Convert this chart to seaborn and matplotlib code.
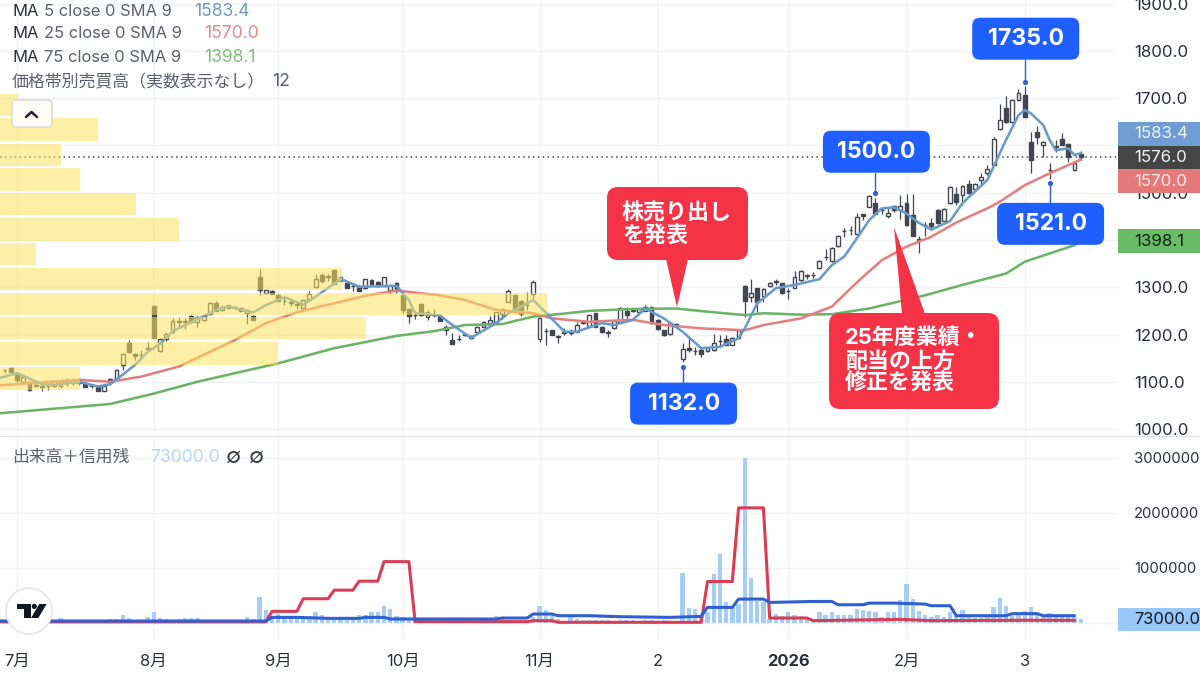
import numpy as np
import pandas as pd
import matplotlib
matplotlib.use("Agg")
import matplotlib.pyplot as plt
import seaborn as sns
from matplotlib.patches import FancyBboxPatch, Polygon, Circle
from matplotlib.lines import Line2D
from matplotlib.transforms import Affine2D

# Daily candles, first entry is bar -2 (bar 0 is the first session of July)
opens = [1124,1130,1119,1100,1100,1094,1089,1090,1092,1090,
 1098,1098,1097,1098,1091,1091,1081,1105,1105,1135,
 1181,1158,1156,1169,1261,1165,1190,1205,1229,1228,
 1240,1227,1230,1243,1267,1251,1262,1258,1256,1245,
 1240,1321,1288,1293,1283,1271,1268,1263,1256,1275,
 1300,1326,1323,1336,1322,1308,1303,1303,1298,1315,
 1312,1303,1294,1310,1283.5,1254,1241,1264.5,1238,1241,
 1240,1216.5,1188,1191,1200.5,1197,1206,1216.5,1223.5,1225.5,
 1242.5,1269.5,1283.5,1271,1262,1285,1190.5,1207,1209,1195,
 1204,1204,1206,1225,1218.5,1244.5,1216.5,1205,1213,1225.5,
 1249.5,1252,1248,1250,1259,1230.5,1209.5,1201,1222,1148,
 1171,1165,1167,1165,1167,1187,1190,1178,1193,1302.5,
 1280,1297.5,1282,1302.5,1312,1308,1292,1299,1315,1324,
 1325,1340,1364,1355.5,1387,1419,1421,1412,1454,1470.5,
 1478,1463,1451,1473,1463,1477.5,1453,1401,1432,1436,
 1463,1441,1477.5,1497,1495,1518,1507,1527,1542,1559,
 1634,1679,1650,1696,1707,1608,1629,1601,1548,1597,
 1613,1604,1548,1581]
closes = [1125,1121,1103,1111,1083,1091,1089.5,1091,1102,1101,
 1099,1100,1100,1088,1093,1081,1090,1100,1125,1158,
 1163,1155,1157,1172,1193,1190,1202,1229,1226,1226,
 1227,1236,1239,1266,1250,1258,1257,1258,1250,1251,
 1230,1294,1294,1285,1271,1270,1267,1264,1273,1286,
 1317,1314,1322,1306,1313,1298,1302,1292,1317,1306,
 1303,1321,1304,1292,1252,1240,1241,1241,1247,1242,
 1228.5,1209,1180.5,1190,1200,1192,1216,1225.5,1230.5,1247,
 1255,1292.5,1248,1242.5,1263,1312,1234,1208,1199,1195.5,
 1204.5,1204,1220,1226,1241,1216.5,1204.5,1203,1228.5,1255.5,
 1241,1250,1253,1259,1223.5,1211.5,1199,1223.5,1220,1168.5,
 1168,1165,1158,1172,1183,1186,1178,1192,1209.5,1271.5,
 1288.5,1268,1296,1310,1313,1287,1292,1322,1334,1324,
 1326,1356,1365,1383.5,1408,1420,1421,1448,1451,1493,
 1456,1464,1458,1463,1472,1431.5,1409,1402,1431.5,1429.5,
 1435,1465,1513,1481,1514,1499,1518,1534,1551,1613,
 1655,1650,1696,1712,1661,1569,1617,1608,1549,1598,
 1602,1576,1564,1576]
highs = [1128,1132,1121,1113,1101,1098,1097,1098,1104,1103,
 1107,1104,1108,1101,1095,1092,1092,1108,1127,1160,
 1188,1160,1167,1185,1262,1192,1205,1235,1238,1234,
 1242,1240,1241,1268,1270,1262,1263,1261,1258,1254,
 1241,1338,1295,1294,1285,1280,1275,1269,1274,1292,
 1327,1331,1329,1337,1324,1309,1309,1304,1318,1317,
 1314,1322,1305,1311,1287,1256,1250,1266,1252,1255,
 1241,1220,1204,1200,1204,1198,1217,1228,1240,1248,
 1256,1296,1285,1272,1289,1315,1236,1213,1209,1200,
 1213,1211,1227,1230,1243,1245,1217,1209,1230,1258,
 1258,1255,1254,1262,1261,1232,1210,1225,1224,1181,
 1192,1174,1174,1173,1202,1199,1199,1194,1211,1305,
 1317,1299,1298,1312,1317,1309,1298,1335,1336,1329,
 1333,1358,1380,1385,1410,1425,1430,1457,1456,1495,
 1488,1470,1470,1475,1495,1498,1498,1408,1439,1446,
 1466,1467,1515,1513,1516,1527,1520,1541,1558,1617,
 1688,1705,1698,1719,1726,1629,1641,1610,1562,1611,
 1626,1606,1566,1588]
lows = [1118,1120,1100,1097,1080,1090,1080,1082,1089,1086,
 1090,1094,1093,1088,1086,1080,1080,1093,1104,1125,
 1160,1146,1149,1166,1193,1163,1187,1203,1214,1212,
 1226,1216,1228,1241,1250,1249,1256,1254,1249,1223,
 1230,1283,1286,1285,1270,1262,1261,1254,1254,1273,
 1298,1310,1313,1306,1313,1298,1292,1292,1296,1306,
 1303,1302,1286,1288,1245,1224,1233,1240,1231,1236,
 1228,1199,1179,1186,1197,1191,1205,1215,1222,1224,
 1232,1268,1246,1240,1252,1275,1185,1178,1198,1183,
 1200,1199,1205,1222,1217,1215,1203,1195,1212,1224,
 1232,1247,1247,1249,1222,1210,1196,1200,1218,1141,
 1163,1156,1153,1164,1165,1174,1177,1177,1192,1238,
 1268,1248,1268,1301,1305,1286,1275,1298,1314,1317,
 1319,1339,1358,1354,1385,1407,1410,1411,1442,1469,
 1455,1455,1446,1460,1445,1430,1408,1372,1408,1421,
 1433,1440,1476,1474,1474,1498,1505,1516,1537,1558,
 1632,1647,1648,1695,1660,1542,1604,1576,1530,1587,
 1600,1566,1546,1570]
# Daily volume in thousands of shares
volume_k = [40,38,45,40,38,36,35,40,55,84,
 42,40,38,45,50,55,60,65,70,150,
 90,54,45,108,193,90,72,60,70,84,
 90,84,45,45,42,45,50,42,60,102,
 70,476,235,132,163,132,132,132,132,132,
 193,145,115,102,102,102,102,145,145,205,
 193,307,253,132,102,70,45,48,50,50,
 45,42,48,50,45,42,50,50,60,120,
 84,60,55,50,60,100,307,235,163,70,
 45,100,80,60,55,50,55,50,45,50,
 55,50,45,50,48,45,48,45,45,904,
 277,253,132,193,885,1259,373,295,343,3000,
 825,404,373,72,163,132,193,145,132,102,
 72,193,145,193,145,145,150,253,241,223,
 205,102,193,193,410,699,434,223,150,114,
 145,102,193,132,229,102,84,84,114,295,
 452,307,132,163,211,283,175,102,181,132,
 132,132,102,73]
bars = np.arange(-2, 172)

# Moving averages, sampled at the bars where their slope changes
ma5_bars = [-3,0,4,6,10,13,15,17,19,21,23,25,29,32,34,38,40,43,46,48,51,52,55,61,63,64,68,70,73,77,79,83,88,90,94,96,99,101,104,107,110,113,116,117,119,122,125,129,131,133,135,137,139,141,143,145,147,150,152,156,157,159,161,162,163,165,166,167,169,170,171]
ma5_vals = [1107,1118,1095,1093,1100,1090,1095,1115,1136,1163,1180,1207,1232,1252,1259,1247,1262,1279,1263,1280,1308,1318,1301,1303,1273,1245,1240,1220,1193,1224,1245,1273,1206,1206,1224,1220,1231,1255,1234,1206,1171,1174,1192,1213,1266,1298,1305,1317,1347,1365,1403,1442,1467,1469,1456,1436,1422,1440,1478,1527,1555,1612,1664,1675,1668,1643,1612,1590,1594,1580,1583.4]
ma25_bars = [-3,0,10,15,20,26,35,40,45,51,56,61,68,72,77,83,86,92,99,104,110,117,120,126,131,135,139,143,147,151,156,158,162,166,171]
ma25_vals = [1092,1095,1104,1100,1111,1132,1188,1224,1247,1266,1282,1293,1283,1273,1252,1245,1234,1227,1231,1220,1213,1209,1220,1234,1259,1310,1357,1386,1407,1437,1467,1481,1516,1541,1570.0]
ma75_bars = [-3,15,22,29,42,51,61,67,72,78,83,87,92,99,106,112,117,120,126,131,137,146,152,159,162,170,171]
ma75_vals = [1033,1053,1075,1100,1139,1171,1197,1207,1220,1222,1238,1243,1250,1254,1255,1247,1241,1245,1242,1243,1255,1283,1305,1329,1354,1389,1398.1]

# Margin balances, thousands of shares
sell_bars = [-3,40,41,45,46,50,51,54,55,58,59,63,64,82,83,86,87,110,111,115,116,120,121,127,128,142,147,162,170]
sell_k = [20,20,211,211,440,440,596,596,759,759,1114,1114,24,24,42,42,12,12,753,753,2090,2090,90,90,42,66,42,50,48]
buy_bars = [-3,40,41,45,50,55,56,59,60,77,78,82,83,86,87,92,97,105,110,111,115,116,120,121,128,131,132,136,137,141,146,147,150,151,159,160,164,165,170]
buy_k = [36,36,102,102,84,84,102,102,72,72,90,90,163,163,132,132,114,102,120,283,283,434,434,373,391,391,331,331,361,361,343,313,313,132,132,169,169,132,132]

# Volume-by-price rows, relative traded volume per price band
profile_prices = [1107,1160,1213,1265,1318,1370,1422,1476,1528,1580,1634,1686]
profile_volume = [80,278,366,547,342,36,179,136,80,61,98,18]

# Highs and lows pinned on the chart
pin_bars = [162,138,166,107]
pin_vals = [1735.0,1500.0,1521.0,1132.0]
pin_gaps = [-22,-20,20,16]

price_ticks = list(range(1000,1901,100))
price_labels = ["1000.0","1100.0","1200.0","1300.0","","1500.0","","1700.0","1800.0","1900.0"]
volume_ticks = [0,1000000,2000000,3000000]
volume_labels = ["","1000000","2000000","3000000"]
month_bars = [0,22,42,62,84,103,124,143,162]
month_labels = ["7月","8月","9月","10月","11月","2","2026","2月","3"]

GRID = "#f0f2f6"
UP_FACE, CANDLE = "#ffffff", "#434651"
BLUE, RED, GREEN = "#6a9ac9", "#e47f7f", "#6cb368"
PIN = "#1f5fff"
CALLOUT = "#f43347"
INK, MUTED = "#2a2e39", "#5d606b"

sns.set_theme(style="white")
plt.rcParams["font.family"] = ["Inter", "Noto Sans CJK JP", "DejaVu Sans"]

fig = plt.figure(figsize=(12, 6.75), dpi=100, facecolor="white")
PX = Affine2D().scale(1, -1).translate(0, 675)   # top-left pixel coordinates

PANE_W, PX_H = 1118 / 1200, 675
ax = fig.add_axes([0, (675 - 436) / PX_H, PANE_W, 436 / PX_H])
axv = fig.add_axes([0, (675 - 640) / PX_H, PANE_W, 204 / PX_H], sharex=ax)

df = pd.DataFrame({"bar": bars, "open": opens, "high": highs, "low": lows,
                   "close": closes, "volume": np.array(volume_k) * 1000})
up = df.close >= df.open

# Candles
ax.vlines(df.bar, df.low, df.high, color=CANDLE, lw=0.9, zorder=2)
ax.bar(df.bar, (df.close - df.open).abs().clip(lower=1.0),
       bottom=df[["open", "close"]].min(axis=1), width=0.62,
       color=np.where(up, UP_FACE, CANDLE), edgecolor=CANDLE, lw=1.0, zorder=2.2)

# Moving averages
for xs, ys, col in [(ma75_bars, ma75_vals, GREEN), (ma25_bars, ma25_vals, RED), (ma5_bars, ma5_vals, BLUE)]:
    sns.lineplot(x=xs, y=ys, ax=ax, color=col, lw=1.85, estimator=None, sort=False, zorder=3)

# Volume-by-price overlay
frac = np.array(profile_volume) / max(profile_volume) * (547 / 1118)
ax.barh(profile_prices, frac, height=47, left=0, color="#fce45d", alpha=0.55,
        transform=ax.get_yaxis_transform(), lw=0, zorder=4)

# Last price line
ax.axhline(closes[-1], color=CANDLE, lw=1.1, ls=(0, (1, 2.2)), zorder=1.5)

# Pins
sns.scatterplot(x=pin_bars, y=pin_vals, ax=ax, color="#2f5fd0", s=14, lw=0, zorder=5)

ax.set_xlim(-2.733, 177)
ax.set_ylim(985.2, 1907.9)
ax.set_yticks(price_ticks)
ax.set_yticklabels(price_labels)

# Volume pane
sns.barplot(x=df.bar, y=df.volume, ax=axv, native_scale=True, color="#a6cdf5",
            width=0.7, saturation=1, lw=0, zorder=2)
sns.lineplot(x=sell_bars, y=np.array(sell_k) * 1000, ax=axv, color="#d93d55", lw=2.2, estimator=None, zorder=3)
sns.lineplot(x=buy_bars, y=np.array(buy_k) * 1000, ax=axv, color="#2f5fd0", lw=2.2, estimator=None, zorder=4)
axv.set_xlim(-2.733, 177)
axv.set_ylim(-309000, 3395000)
axv.set_yticks(volume_ticks)
axv.set_yticklabels(volume_labels)
axv.set_xticks(month_bars)
axv.set_xticklabels(month_labels)
axv.get_xticklabels()[month_labels.index("2026")].set_fontweight("bold")

for a, size in ((ax, 12.2), (axv, 10.7)):
    a.set_xlabel(""); a.set_ylabel("")
    a.patch.set_alpha(0)
    a.grid(True, color=GRID, lw=1.0, zorder=0)
    a.set_axisbelow(True)
    a.yaxis.tick_right()
    a.tick_params(axis="y", length=0, pad=11.5, labelsize=size, labelcolor=INK)
    for s in a.spines.values():
        s.set_visible(False)
    for lab in a.get_yticklabels():
        lab.set_ha("left")
ax.tick_params(axis="x", length=0, labelbottom=False)
axv.tick_params(axis="x", length=0, pad=10, labelsize=11.9, labelcolor=INK)
fig.add_artist(Line2D([0, 1200], [436, 436], transform=PX, color="#e0e3eb", lw=1.0))


def txt(x, y, s, color=INK, size=11.9, weight="normal", ha="left", zorder=8):
    fig.text(x, y, s, transform=PX, color=color, fontsize=size, fontweight=weight,
             ha=ha, va="center", zorder=zorder)


def round_box(x0, y0, x1, y1, face, radius=9, edge="none", lw=0, zorder=6):
    fig.add_artist(FancyBboxPatch((x0 + radius, y0 + radius), x1 - x0 - 2 * radius, y1 - y0 - 2 * radius,
                                  boxstyle=f"round,pad={radius},rounding_size={radius}", transform=PX,
                                  fc=face, ec=edge, lw=lw, zorder=zorder))


# Indicator legend
for y, name, value, vx, col in [(12, "5 close 0 SMA 9", "1583.4", 194, BLUE),
                                (34, "25 close 0 SMA 9", "1570.0", 204, "#e08a8a"),
                                (57, "75 close 0 SMA 9", "1398.1", 204, "#7fbf7b")]:
    txt(12, y, "MA")
    txt(44, y, name, MUTED)
    txt(vx, y, value, col, size=12.6)
txt(12, 82, "価格帯別売買高（実数表示なし）", MUTED, size=12.2)
txt(272, 82, "12", MUTED, size=12.6)
txt(12, 457, "出来高＋信用残", MUTED, size=12.1)
txt(150, 457, "73000.0", "#b5d5f3", size=12.6)
txt(226, 457, "∅", "#3a3d46", size=16)
txt(249, 457, "∅", "#3a3d46", size=16)

# Collapse button
round_box(12, 100, 52, 127, "#fffdf6", radius=4, edge="#d6d6d6", lw=1)
fig.add_artist(Line2D([26, 31.5, 37], [117, 112, 117], transform=PX, color="#1c1f28", lw=1.8, zorder=7))

# Price scale tags
for y0, y1, face, label, col in [(122, 146, "#6f9dd4", "1583.4", "#eef3fa"),
                                 (146, 169, "#454545", "1576.0", "#f2f2f2"),
                                 (169, 193, "#e57878", "1570.0", "#fbeaea"),
                                 (229, 253, "#6abb67", "1398.1", "#10240f"),
                                 (608, 631, "#97c6f7", "73000.0", "#131722")]:
    fig.add_artist(FancyBboxPatch((1118, y0), 84, y1 - y0, boxstyle="square,pad=0", transform=PX,
                                  fc=face, ec="none", zorder=6))
    txt(1134, (y0 + y1) / 2, label, col, size=12.2 if len(label) == 6 else 11.9, zorder=8)

# Pin stems and value boxes
fig.canvas.draw()
for bar, val, gap in zip(pin_bars, pin_vals, pin_gaps):
    dx, dy = ax.transData.transform((bar, val))
    px_x, px_y = dx, 675 - dy
    edge = px_y + gap
    fig.add_artist(Line2D([px_x, px_x], [px_y, edge], transform=PX, color="#2f5fd0", lw=1.0, zorder=5))
    cy = edge + (21 if gap > 0 else -21)
    cx = px_x + 1
    round_box(cx - 53.5, cy - 21, cx + 53.5, cy + 21, PIN, radius=8)
    txt(cx, cy, f"{val:.1f}", "white", size=16.6, weight="bold", ha="center")

# News callouts
round_box(607, 187, 748, 260, CALLOUT, radius=11)
fig.add_artist(Polygon([(666, 259), (688, 259), (677, 307)], transform=PX, fc=CALLOUT, ec="none", zorder=6))
txt(622, 212, "株売り出し", "white", size=15.8, weight="bold")
txt(622, 236, "を発表", "white", size=15.8, weight="bold")

round_box(829, 313, 999, 409, CALLOUT, radius=11)
fig.add_artist(Polygon([(902, 314), (925, 314), (894, 227)], transform=PX, fc=CALLOUT, ec="none", zorder=6))
txt(845, 338, "25年度業績・", "white", size=15.8, weight="bold")
txt(845, 361, "配当の上方", "white", size=15.8, weight="bold")
txt(845, 383, "修正を発表", "white", size=15.8, weight="bold")

# Watermark badge
fig.add_artist(Circle((29, 611), 23, transform=PX, fc="white", ec="#e6e6e6", lw=1.2, zorder=6))
for pts in ([(16.7, 604), (30.7, 604), (30.7, 618), (24, 618), (24, 609), (16.7, 609)],
            [(39.3, 604), (46.7, 604), (38.3, 618), (31, 618)]):
    fig.add_artist(Polygon(pts, transform=PX, fc="#131722", ec="none", zorder=7))
fig.add_artist(Circle((34.3, 606.4), 2.6, transform=PX, fc="#131722", ec="none", zorder=7))

fig.savefig("out.png", dpi=100)
